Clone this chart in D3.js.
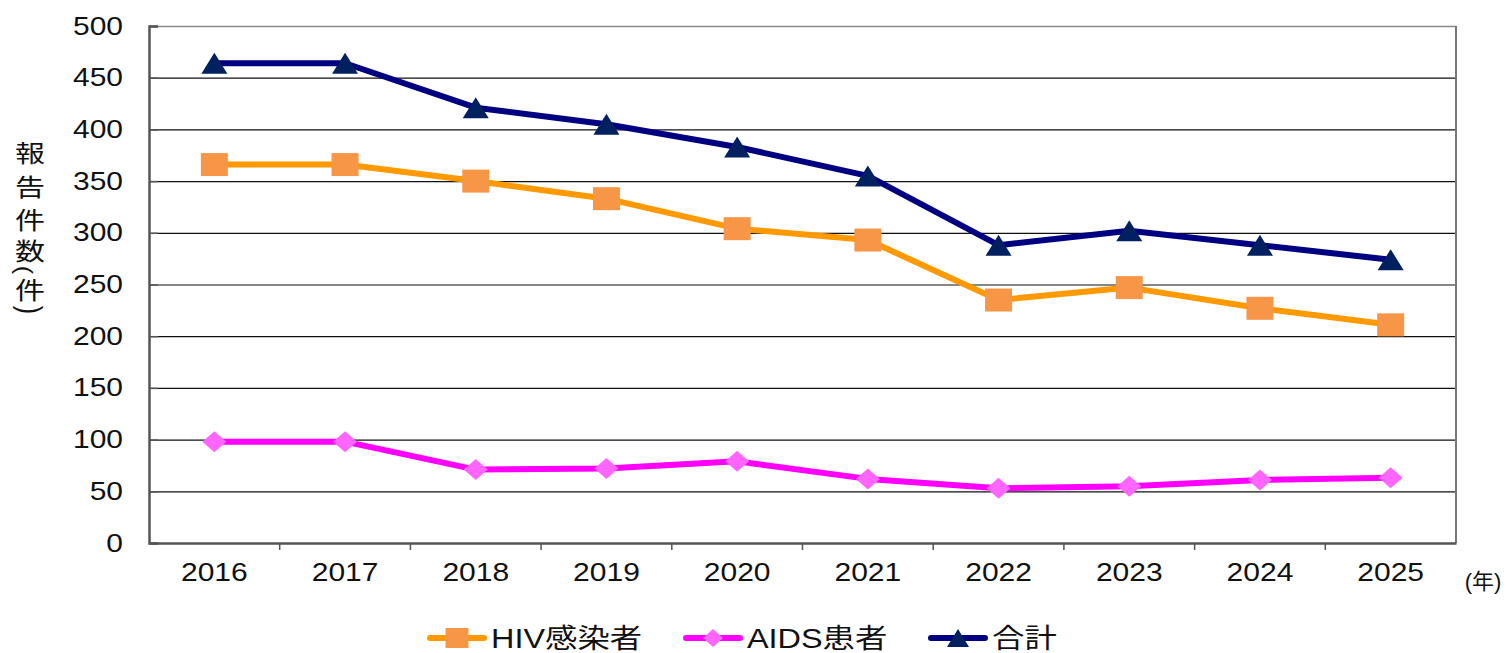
<!DOCTYPE html>
<html>
<head>
<meta charset="utf-8">
<script src="https://cdn.jsdelivr.net/npm/d3@7"></script>
<style>
  body { margin: 0; background: #fff; }
  svg text { font-family: "Liberation Sans", Arial, "Noto Sans CJK JP", sans-serif; fill: #111; }
</style>
</head>
<body>
<div id="chart"></div>
<script>
var years = ["2016", "2017", "2018", "2019", "2020", "2021", "2022", "2023", "2024", "2025"];
var hivValues = [366, 366, 350, 333, 304, 293, 235, 247, 227, 211];
var aidsValues = [98, 98, 71, 72, 79, 62, 53, 55, 61, 63];
var totalValues = [464, 464, 421, 405, 383, 355, 288, 302, 288, 274];
var yTicks = [0, 50, 100, 150, 200, 250, 300, 350, 400, 450, 500];
var seriesNames = ["HIV感染者", "AIDS患者", "合計"];
var yLabelChars = ["報", "告", "件", "数", "(", "件", ")"];

// marker shapes drawn in a w x h box centred on the point
function boxShape(kind, w, h) {
    return {
        draw: function (ctx) {
            var a = w / 2, b = h / 2;
            if (kind === "square") {
                ctx.rect(-a, -b, w, h);
            } else if (kind === "diamond") {
                ctx.moveTo(0, -b); ctx.lineTo(a, 0); ctx.lineTo(0, b); ctx.lineTo(-a, 0);
            } else {
                ctx.moveTo(0, -b); ctx.lineTo(a, b); ctx.lineTo(-a, b);
            }
            ctx.closePath();
        }
    };
}

function drawChart() {

    var width = 1507, height = 653;
    var left = 149, right = 1456, top = 26, bottom = 543;
    var stretch = 1.2;

    var svg = d3.select("#chart").append("svg")
        .attr("width", width)
        .attr("height", height);

    var x = d3.scaleBand().domain(years).range([left, right]);
    var y = d3.scaleLinear().domain([0, 500]).range([bottom, top]);

    // gridlines
    svg.append("g")
        .selectAll("line")
        .data(yTicks.filter(function (d) { return d > 0; }))
        .enter().append("line")
        .attr("x1", left).attr("x2", right)
        .attr("y1", function (d) { return y(d) + 0.5; })
        .attr("y2", function (d) { return y(d) + 0.5; })
        .attr("stroke", function (d) { return d === 500 ? "#888" : "#111"; })
        .attr("stroke-width", function (d) { return d === 500 ? 1.5 : 1.2; });

    // right border
    svg.append("line")
        .attr("x1", right).attr("x2", right)
        .attr("y1", top).attr("y2", bottom)
        .attr("stroke", "#777").attr("stroke-width", 2);

    // y axis
    var yAxis = d3.axisLeft(y).tickValues(yTicks).tickSize(-9).tickPadding(26);
    var gy = svg.append("g")
        .attr("transform", "translate(" + left + ",0)")
        .call(yAxis);
    gy.select(".domain").attr("stroke", "#555").attr("stroke-width", 2.5);
    gy.selectAll(".tick line").attr("stroke", "#555").attr("stroke-width", 1.5);
    gy.selectAll("text")
        .style("font-size", "25px")
        .attr("fill", "#111")
        .attr("x", -26 / stretch)
        .attr("transform", "scale(" + stretch + ",1)");

    // x axis
    var xAxis = d3.axisBottom(x).tickSize(0).tickPadding(20);
    var gx = svg.append("g")
        .attr("transform", "translate(0," + bottom + ")")
        .call(xAxis);
    gx.select(".domain").attr("stroke", "#555").attr("stroke-width", 2.5);
    gx.selectAll("text")
        .style("font-size", "25px")
        .attr("fill", "#111")
        .attr("transform", "scale(" + stretch + ",1)");

    // tick marks between categories
    svg.append("g")
        .selectAll("line")
        .data(years.slice(1))
        .enter().append("line")
        .attr("x1", function (d) { return x(d); })
        .attr("x2", function (d) { return x(d); })
        .attr("y1", bottom).attr("y2", bottom + 7)
        .attr("stroke", "#555").attr("stroke-width", 1.5);

    svg.append("text")
        .attr("x", 1483).attr("y", 589)
        .attr("text-anchor", "middle")
        .style("font-size", "22px")
        .text("(年)");

    // y label, one character per line; brackets turned on their side
    var labelY = [154, 187.5, 221, 251.5, 270, 291, 310];
    var labelX = [30, 30, 30, 30, 25, 30, 30];
    svg.append("g")
        .selectAll("text")
        .data(yLabelChars)
        .enter().append("text")
        .attr("text-anchor", "middle")
        .attr("dominant-baseline", "central")
        .style("font-size", function (d) { return d === "(" || d === ")" ? "28px" : "24px"; })
        .attr("transform", function (d, i) {
            if (d === "(") {
                return "translate(" + labelX[i] + "," + labelY[i] + ") rotate(90) scale(0.9,0.8)";
            }
            if (d === ")") {
                return "translate(" + labelX[i] + "," + labelY[i] + ") rotate(90) scale(0.9,1.1)";
            }
            return "translate(" + labelX[i] + "," + labelY[i] + ") scale(1.25,1)";
        })
        .text(function (d) { return d; });

    var line = d3.line()
        .x(function (d, i) { return x(years[i]) + x.bandwidth() / 2; })
        .y(function (d) { return y(d); });

    var series = [
        { name: seriesNames[0], values: hivValues, stroke: "#FF9900", fill: "#F79646", shape: boxShape("square", 27, 23), legendShape: boxShape("square", 23, 20) },
        { name: seriesNames[1], values: aidsValues, stroke: "#FF00FF", fill: "#FF66FF", shape: boxShape("diamond", 24, 21), legendShape: boxShape("diamond", 20, 18) },
        { name: seriesNames[2], values: totalValues, stroke: "#000080", fill: "#002060", shape: boxShape("triangle", 26, 21), legendShape: boxShape("triangle", 22, 18) }
    ];

    series.forEach(function (s) {
        svg.append("path")
            .attr("d", line(s.values))
            .attr("fill", "none")
            .attr("stroke", s.stroke)
            .attr("stroke-width", 6)
            .attr("stroke-linejoin", "round");

        svg.append("g")
            .selectAll("path")
            .data(s.values)
            .enter().append("path")
            .attr("transform", function (d, i) {
                return "translate(" + (x(years[i]) + x.bandwidth() / 2) + "," + y(d) + ")";
            })
            .attr("d", d3.symbol().type(s.shape))
            .attr("fill", s.fill);
    });

    // legend
    var legendX = [427, 683, 928];
    series.forEach(function (s, i) {
        var g = svg.append("g").attr("transform", "translate(" + legendX[i] + ",638)");
        g.append("line")
            .attr("x1", 3).attr("x2", 57)
            .attr("stroke", s.stroke)
            .attr("stroke-width", 6)
            .attr("stroke-linecap", "round");
        g.append("path")
            .attr("transform", "translate(30,0)")
            .attr("d", d3.symbol().type(s.legendShape))
            .attr("fill", s.fill);
        g.append("text")
            .attr("x", 64 / stretch).attr("y", 10)
            .attr("transform", "scale(" + stretch + ",1)")
            .style("font-size", "27px")
            .text(s.name);
    });
}

drawChart();
</script>
</body>
</html>
